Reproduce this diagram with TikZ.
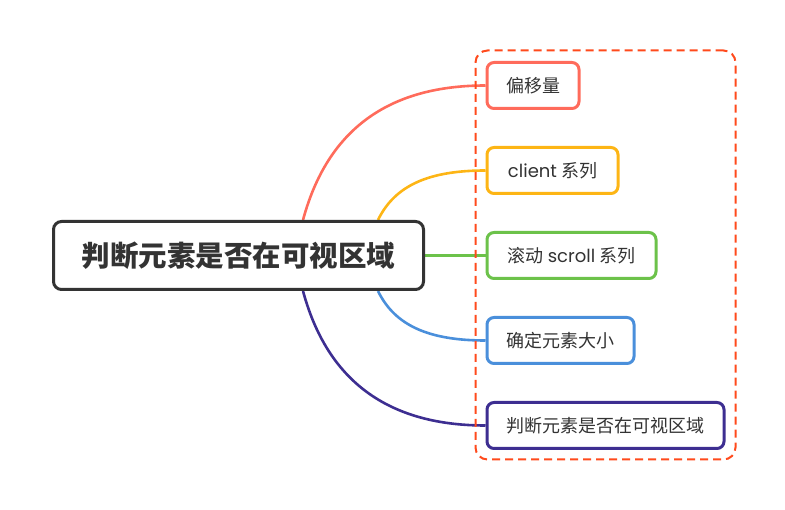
\documentclass[tikz,border=0pt]{standalone}
\usepackage{fontspec}
\setmainfont{Noto Sans CJK SC}
\newfontfamily\lat{Poppins}
\usetikzlibrary{calc,backgrounds}
\definecolor{cred}{HTML}{FF6B5B}
\definecolor{cyel}{HTML}{FDB515}
\definecolor{cgrn}{HTML}{6CC24A}
\definecolor{cblu}{HTML}{4A8FDB}
\definecolor{cpur}{HTML}{3D2E91}
\definecolor{cdash}{HTML}{FF4A1C}
\definecolor{ctxt}{HTML}{333333}
\tikzset{
  mainbox/.style={draw=ctxt, line width=3pt, rounded corners=8pt, fill=white,
    minimum width=370pt, minimum height=68pt, inner sep=0pt,
    font=\fontsize{28.5}{32}\selectfont\bfseries, text=ctxt},
  childbox/.style={draw=#1, line width=3pt, rounded corners=7pt, fill=white,
    minimum height=46pt, inner sep=0pt, anchor=west,
    font=\fontsize{18}{22}\selectfont, text=ctxt},
  link/.style={draw=#1, line width=2.6pt},
  groupbox/.style={draw=cdash, line width=2pt, dash pattern=on 8pt off 5pt, rounded corners=12pt}
}
\begin{document}
\begin{tikzpicture}[x=1pt,y=-1pt]
\useasboundingbox (0,0) rectangle (785,510);
\node[groupbox, minimum width=260pt, minimum height=409pt, inner sep=0pt] (grp) at (605.5,255) {};
\node[mainbox] (m) at (238.5,255.5) {判断元素是否在可视区域};
\node[childbox=cred, minimum width=92pt] (c1) at (485.5,85.5) {偏移量};
\node[childbox=cyel, minimum width=131pt] (c2) at (485.5,170.5) {{\lat client} 系列};
\node[childbox=cgrn, minimum width=169pt] (c3) at (485.5,255.5) {滚动 {\lat scroll} 系列};
\node[childbox=cblu, minimum width=147pt] (c4) at (485.5,340.5) {确定元素大小};
\node[childbox=cpur, minimum width=237pt] (c5) at (485.5,425.5) {判断元素是否在可视区域};
\begin{scope}[on background layer]
\coordinate (s1) at ($(m.north west)+(251,0)$);
\coordinate (s2) at ($(m.north west)+(326,0)$);
\coordinate (s4) at ($(m.south west)+(326,0)$);
\coordinate (s5) at ($(m.south west)+(251,0)$);
\draw[link=cred] (s1) .. controls ($(s1)+(27,-100)$) and ($(c1.west)+(-86,0)$) .. (c1.west);
\draw[link=cyel] (s2) .. controls ($(s2)+(17,-35)$) and ($(c2.west)+(-56,0)$) .. (c2.west);
\draw[link=cgrn] (m.east) -- (c3.west);
\draw[link=cblu] (s4) .. controls ($(s4)+(17,35)$) and ($(c4.west)+(-56,0)$) .. (c4.west);
\draw[link=cpur] (s5) .. controls ($(s5)+(27,100)$) and ($(c5.west)+(-86,0)$) .. (c5.west);
\end{scope}
\end{tikzpicture}
\end{document}
